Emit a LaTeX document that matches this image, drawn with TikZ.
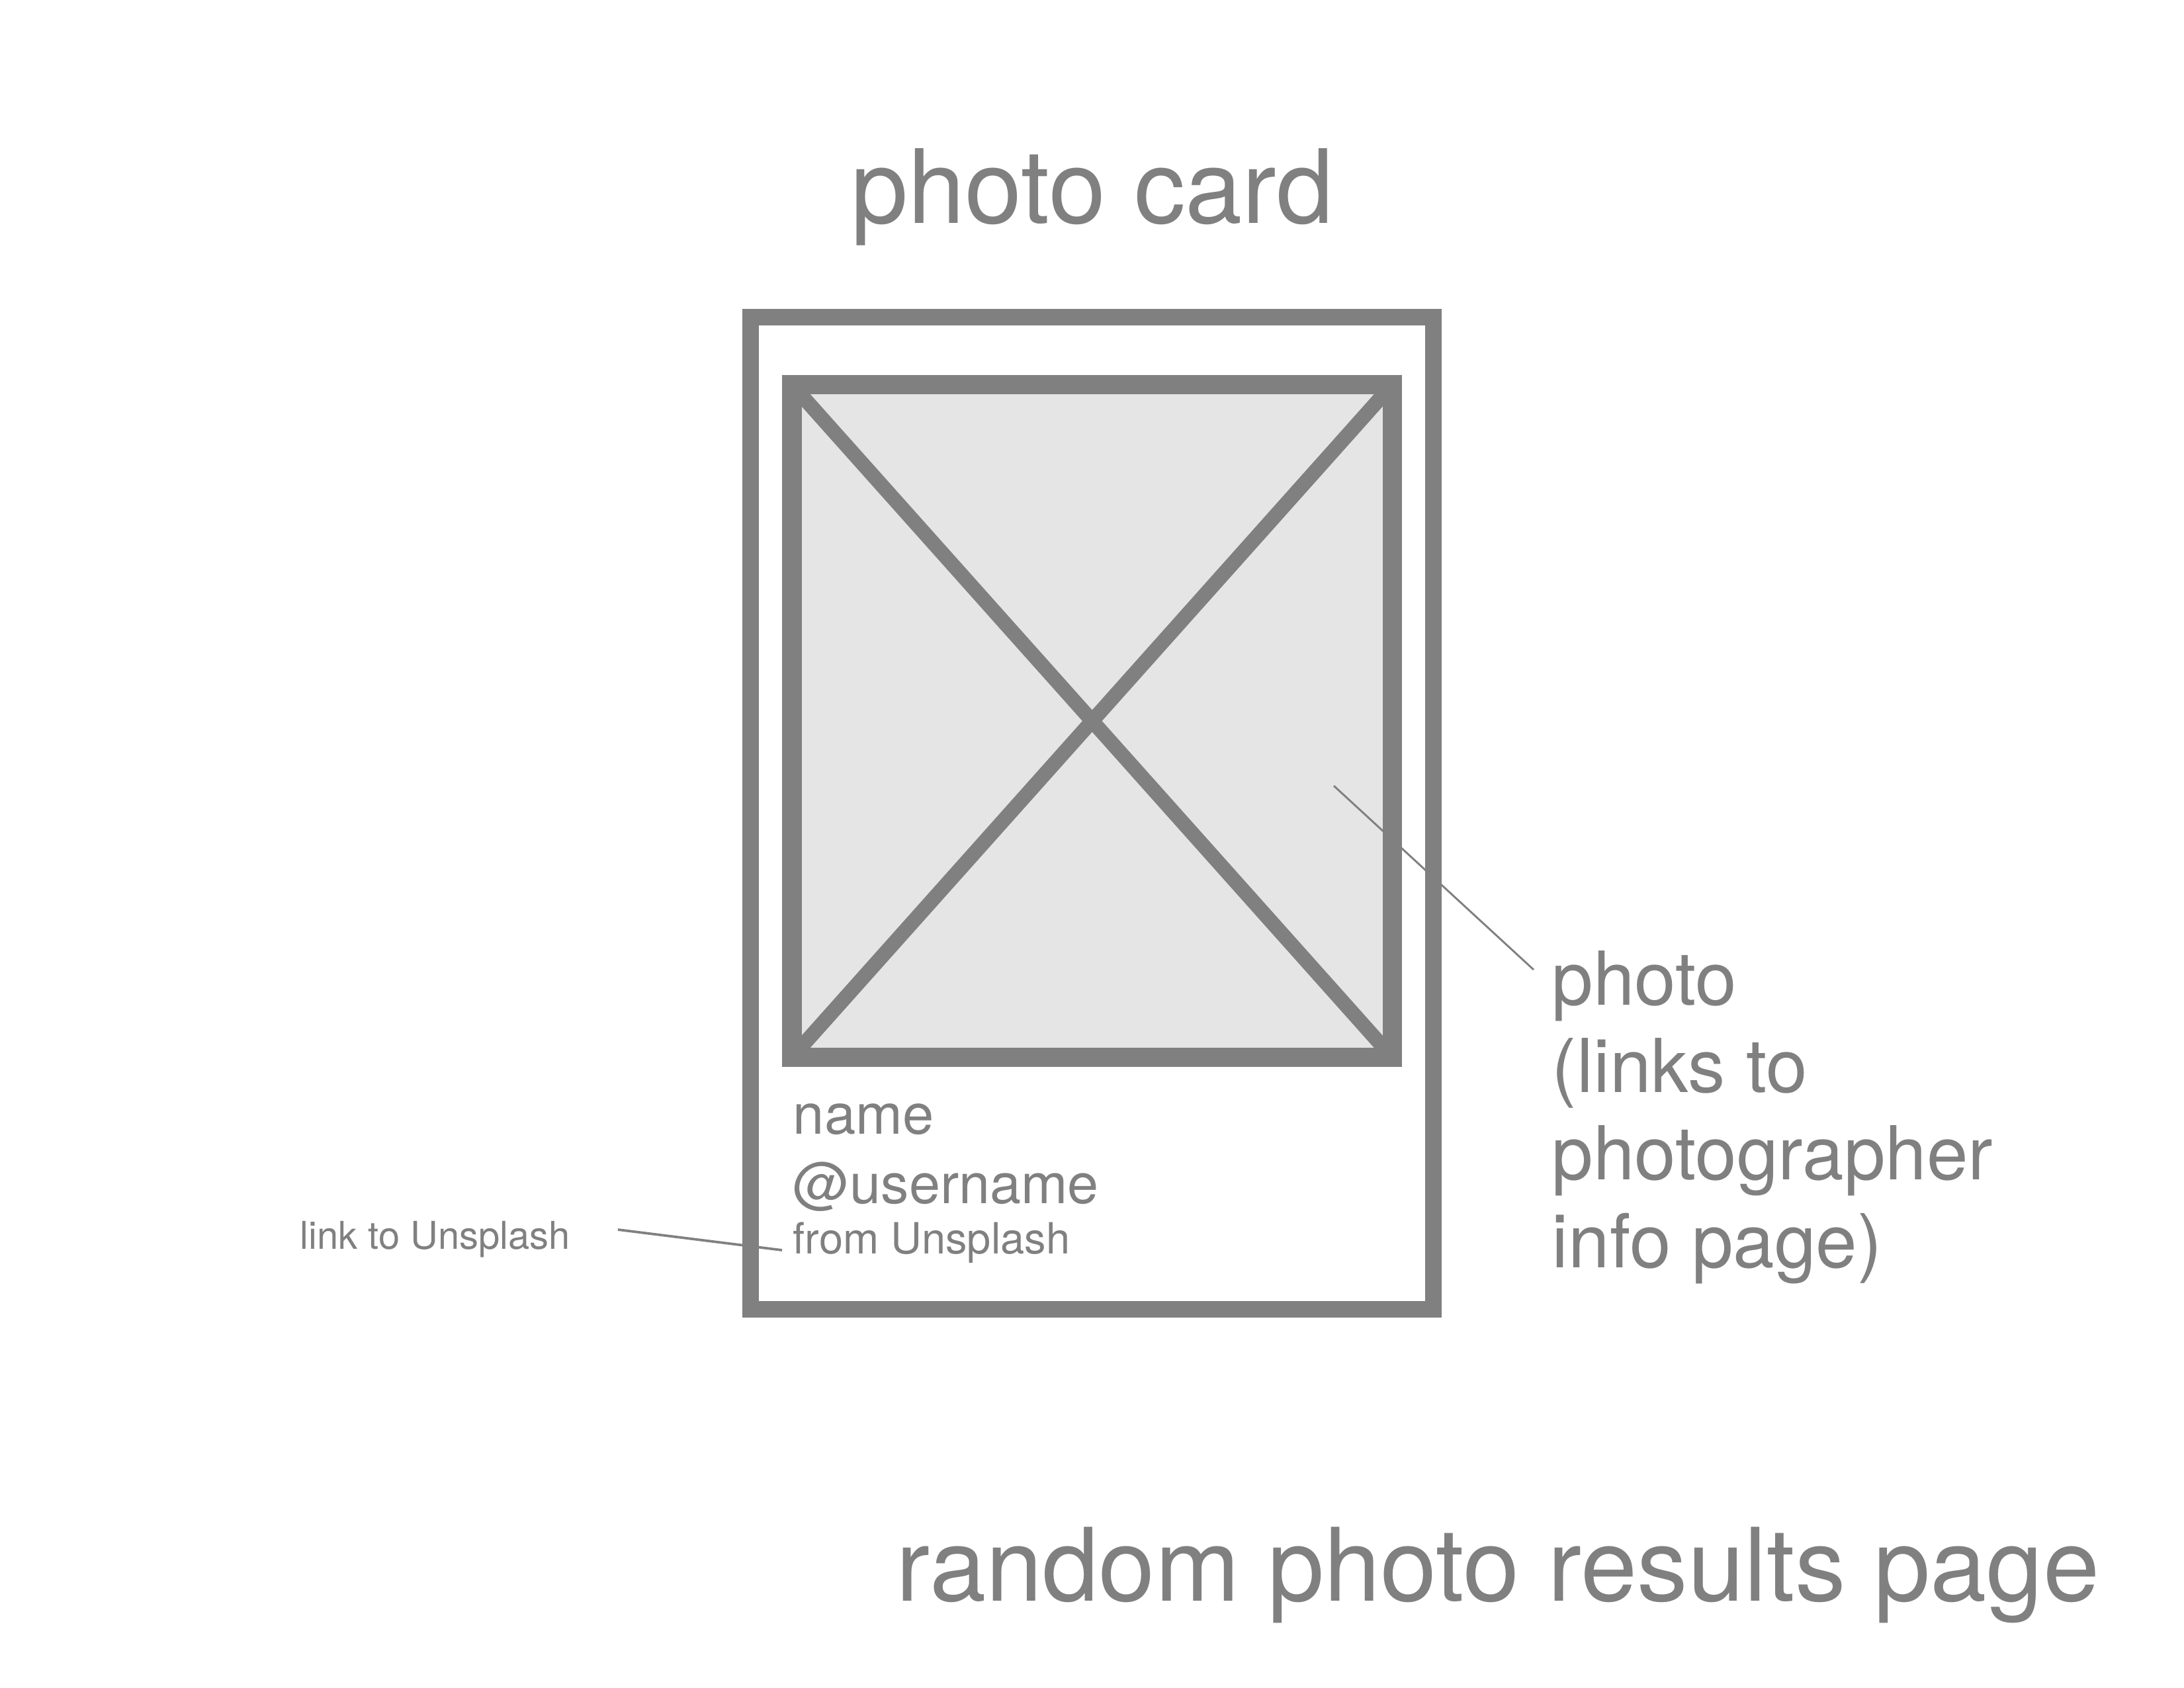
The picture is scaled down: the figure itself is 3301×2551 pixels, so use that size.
\documentclass[tikz,border=0pt]{standalone}
\usepackage{fontspec}
\setmainfont{TeX Gyre Heros}
\definecolor{wire}{RGB}{128,128,128}
\definecolor{photofill}{RGB}{229,229,229}
\tikzset{lbl/.style={text=wire,inner sep=0pt,anchor=base west,align=left}}

\begin{document}
\begin{tikzpicture}[x=0.24pt,y=-0.24pt]
\useasboundingbox (0,0) rectangle (3301,2551);
\node [lbl,anchor=base,font=\fontsize{37.2}{40}\selectfont] (title) at (1651,337) {photo card};
\coordinate (ph1) at (1197,581.5);
\coordinate (ph2) at (2104.5,1598.5);
\fill [photofill] (ph1) rectangle (ph2);
\draw [wire,line width=5.3pt] (ph1) -- (ph2) (ph1 -| ph2) -- (ph1 |- ph2);
\draw [wire,line width=7pt] (ph1) rectangle (ph2);
\draw [wire,line width=6pt] (1134,479.5) rectangle (2166.5,1979.5);
\node [lbl,font=\fontsize{20.4}{24}\selectfont] (name) at (1198,1714) {name};
\node [lbl,font=\fontsize{20.3}{24}\selectfont] (user) at (1198,1819) {@username};
\node [lbl,font=\fontsize{15.6}{18}\selectfont] (from) at (1198,1895) {from Unsplash};
\node [lbl,font=\fontsize{13.9}{17}\selectfont] (link) at (453,1888) {link to Unsplash};
\coordinate (lk1) at (934,1859);
\coordinate (lk2) at (1182,1890);
\draw [wire,line width=0.9pt] (lk1) -- (lk2);
\node [lbl,font=\fontsize{27}{31.7}\selectfont] (photo) at (2345,1916) {photo\\(links to\\photographer\\info page)};
\coordinate (pt1) at (2016,1188);
\coordinate (pt2) at (2318,1466);
\draw [wire,line width=0.7pt] (pt1) -- (pt2);
\node [lbl,font=\fontsize{36.8}{40}\selectfont] (page) at (1354,2420) {random photo results page};
\end{tikzpicture}
\end{document}
